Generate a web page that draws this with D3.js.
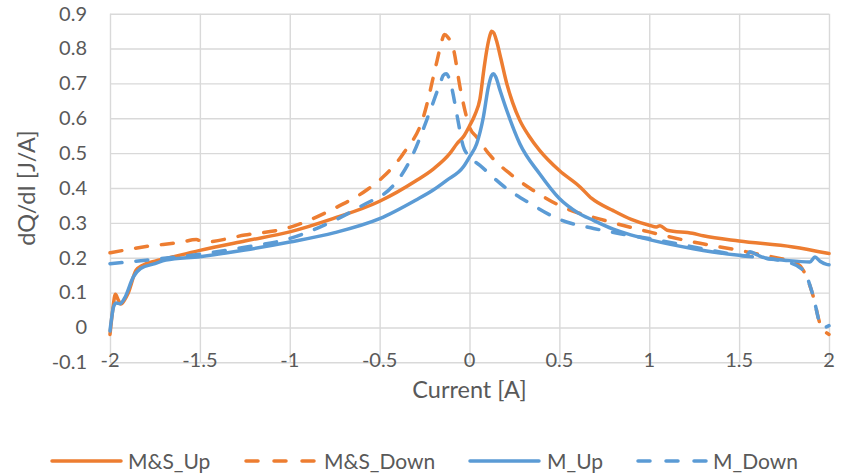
<!DOCTYPE html>
<html>
<head>
<meta charset="utf-8">
<script src="https://cdn.jsdelivr.net/npm/d3@7"></script>
<style>
  html, body { margin: 0; padding: 0; background: #fff; }
  svg { display: block; }
  text { font-family: Lato, "Open Sans", sans-serif; fill: #595959; }
</style>
</head>
<body>
<svg id="chart" width="843" height="474"></svg>
<script>
// ---- Data ----
const seriesNames = ["M&S_Up", "M&S_Down", "M_Up", "M_Down"];
const xTicks = [-2, -1.5, -1, -0.5, 0, 0.5, 1, 1.5, 2];
const yTicks = [-0.1, 0, 0.1, 0.2, 0.3, 0.4, 0.5, 0.6, 0.7, 0.8, 0.9];

const msUpI = [-2.0, -1.985, -1.97, -1.955, -1.94, -1.92, -1.9, -1.855, -1.82, -1.75, -1.685, -1.5, -1.25, -1.0, -0.76, -0.5, -0.3, -0.2, -0.108, -0.07, -0.03, 0.0, 0.03, 0.058, 0.08, 0.096, 0.112, 0.123, 0.135, 0.15, 0.175, 0.207, 0.24, 0.28, 0.33, 0.39, 0.5, 0.615, 0.68, 0.8, 0.9, 1.0, 1.04, 1.06, 1.1, 1.24, 1.3, 1.5, 1.8, 2.0];
const msUpV = [-0.02, 0.05, 0.095, 0.08, 0.067, 0.078, 0.097, 0.164, 0.178, 0.19, 0.198, 0.221, 0.248, 0.274, 0.312, 0.362, 0.42, 0.455, 0.5, 0.527, 0.55, 0.578, 0.61, 0.655, 0.74, 0.795, 0.835, 0.85, 0.845, 0.823, 0.77, 0.70, 0.645, 0.594, 0.55, 0.508, 0.45, 0.403, 0.37, 0.335, 0.31, 0.293, 0.288, 0.292, 0.279, 0.27, 0.263, 0.248, 0.231, 0.212];

const msDownI = [-2.0, -1.8, -1.6, -1.52, -1.48, -1.25, -1.0, -0.75, -0.57, -0.48, -0.368, -0.257, -0.18, -0.155, -0.14, -0.12, -0.09, -0.053, -0.016, 0.0, 0.04, 0.114, 0.225, 0.355, 0.5, 0.78, 1.0, 1.245, 1.5, 1.727, 1.8, 1.857, 1.913, 1.95, 1.975, 2.0];
const msDownV = [0.214, 0.232, 0.245, 0.252, 0.245, 0.265, 0.287, 0.342, 0.395, 0.432, 0.499, 0.603, 0.766, 0.82, 0.84, 0.832, 0.80, 0.69, 0.603, 0.575, 0.546, 0.494, 0.441, 0.393, 0.35, 0.303, 0.274, 0.245, 0.221, 0.198, 0.19, 0.164, 0.088, 0.011, -0.01, -0.02];

const mUpI = [-2.0, -1.99, -1.98, -1.965, -1.945, -1.92, -1.87, -1.83, -1.75, -1.69, -1.5, -1.25, -1.0, -0.75, -0.5, -0.3, -0.2, -0.127, -0.035, 0.0, 0.04, 0.077, 0.105, 0.122, 0.133, 0.145, 0.17, 0.207, 0.28, 0.39, 0.5, 0.6, 0.69, 0.8, 0.875, 1.0, 1.245, 1.5, 1.54, 1.56, 1.6, 1.653, 1.75, 1.894, 1.922, 1.95, 1.987, 2.0];
const mUpV = [-0.01, 0.03, 0.06, 0.07, 0.068, 0.083, 0.145, 0.169, 0.183, 0.193, 0.203, 0.222, 0.245, 0.272, 0.312, 0.365, 0.395, 0.422, 0.46, 0.489, 0.527, 0.603, 0.69, 0.722, 0.728, 0.72, 0.68, 0.623, 0.527, 0.441, 0.37, 0.33, 0.307, 0.282, 0.269, 0.252, 0.226, 0.207, 0.205, 0.217, 0.208, 0.198, 0.193, 0.188, 0.202, 0.19, 0.181, 0.18];

const mDownI = [-2.0, -1.8, -1.5, -1.25, -1.0, -0.72, -0.55, -0.5, -0.33, -0.22, -0.16, -0.146, -0.13, -0.1, -0.07, -0.035, 0.0, 0.058, 0.19, 0.33, 0.5, 0.69, 0.837, 1.0, 1.5, 1.765, 1.857, 1.913, 1.95, 1.97, 2.0];
const mDownV = [0.183, 0.193, 0.21, 0.23, 0.255, 0.315, 0.362, 0.374, 0.48, 0.62, 0.705, 0.723, 0.728, 0.69, 0.61, 0.52, 0.49, 0.465, 0.405, 0.358, 0.31, 0.284, 0.269, 0.255, 0.207, 0.188, 0.164, 0.088, 0.011, 0.0, 0.005];

// ---- Build series table ----
const zip = (a, b) => a.map((v, i) => ({ x: v, y: b[i] }));
const series = [
  { name: seriesNames[0], color: "#ED7D31", dash: null, pts: zip(msUpI, msUpV) },
  { name: seriesNames[1], color: "#ED7D31", dash: "12,14", pts: zip(msDownI, msDownV) },
  { name: seriesNames[2], color: "#5B9BD5", dash: null, pts: zip(mUpI, mUpV) },
  { name: seriesNames[3], color: "#5B9BD5", dash: "12,14", pts: zip(mDownI, mDownV) }
];

const svg = d3.select("#chart");
const pL = 110, pR = 829, pT = 13.7, pB = 362.3;
const x = d3.scaleLinear().domain([-2, 2]).range([pL, pR]);
const y = d3.scaleLinear().domain([-0.1, 0.9]).range([pB, pT]);

const fmt = d => (d === 0 ? "0" : String(+d.toFixed(1)).replace("\u2212", "-"));

// Grid (vertical)
const gx = svg.append("g").attr("transform", `translate(0,${pB})`)
  .call(d3.axisBottom(x).tickValues(xTicks).tickSize(-(pB - pT)).tickFormat(""));
gx.select(".domain").remove();
gx.selectAll("line").attr("stroke", "#d9d9d9").attr("stroke-width", 1.4);

// Grid (horizontal) + y labels
const gy = svg.append("g").attr("transform", `translate(${pL},0)`)
  .call(d3.axisLeft(y).tickValues(yTicks).tickSize(-(pR - pL)).tickPadding(23).tickFormat(fmt));
gy.select(".domain").remove();
gy.selectAll("line").attr("stroke", "#d9d9d9").attr("stroke-width", 1.4);
gy.selectAll("text").attr("font-size", 20).attr("fill", "#595959").attr("font-family", "Lato");

// Series lines
const line = d3.line().x(d => x(d.x)).y(d => y(d.y)).curve(d3.curveMonotoneX);
svg.append("g").selectAll("path").data(series).join("path")
  .attr("d", d => line(d.pts))
  .attr("fill", "none")
  .attr("stroke", d => d.color)
  .attr("stroke-width", 3.5)
  .attr("stroke-linecap", "round")
  .attr("stroke-linejoin", "round")
  .attr("stroke-dasharray", d => d.dash);

// X tick labels (drawn over the bottom grid line, like the reference)
svg.append("g").selectAll("text").data(xTicks).join("text")
  .attr("x", d => x(d)).attr("y", 367)
  .attr("text-anchor", "middle")
  .attr("font-size", 20)
  .text(d => String(d));

// Axis titles
svg.append("text").attr("x", (pL + pR) / 2).attr("y", 398)
  .attr("text-anchor", "middle").attr("font-size", 23.5).text("Current [A]");
svg.append("text").attr("transform", `translate(35,${(pT + pB) / 2}) rotate(-90)`)
  .attr("text-anchor", "middle").attr("font-size", 23.5).text("dQ/dI [J/A]");

// Legend
const legendPos = [
  { lx: 52, tx: 128 },
  { lx: 246, tx: 324 },
  { lx: 470, tx: 547 },
  { lx: 638, tx: 713 }
];
const lg = svg.append("g").selectAll("g").data(series).join("g")
  .attr("transform", "translate(0,461)");
lg.append("line")
  .attr("x1", (d, i) => legendPos[i].lx).attr("x2", (d, i) => legendPos[i].lx + 69)
  .attr("y1", 0).attr("y2", 0)
  .attr("stroke", d => d.color).attr("stroke-width", 3.5)
  .attr("stroke-linecap", "round")
  .attr("stroke-dasharray", d => d.dash ? "12,16" : null);
lg.append("text")
  .attr("x", (d, i) => legendPos[i].tx).attr("y", 7.5)
  .attr("font-size", 21)
  .text(d => d.name);
</script>
</body>
</html>
